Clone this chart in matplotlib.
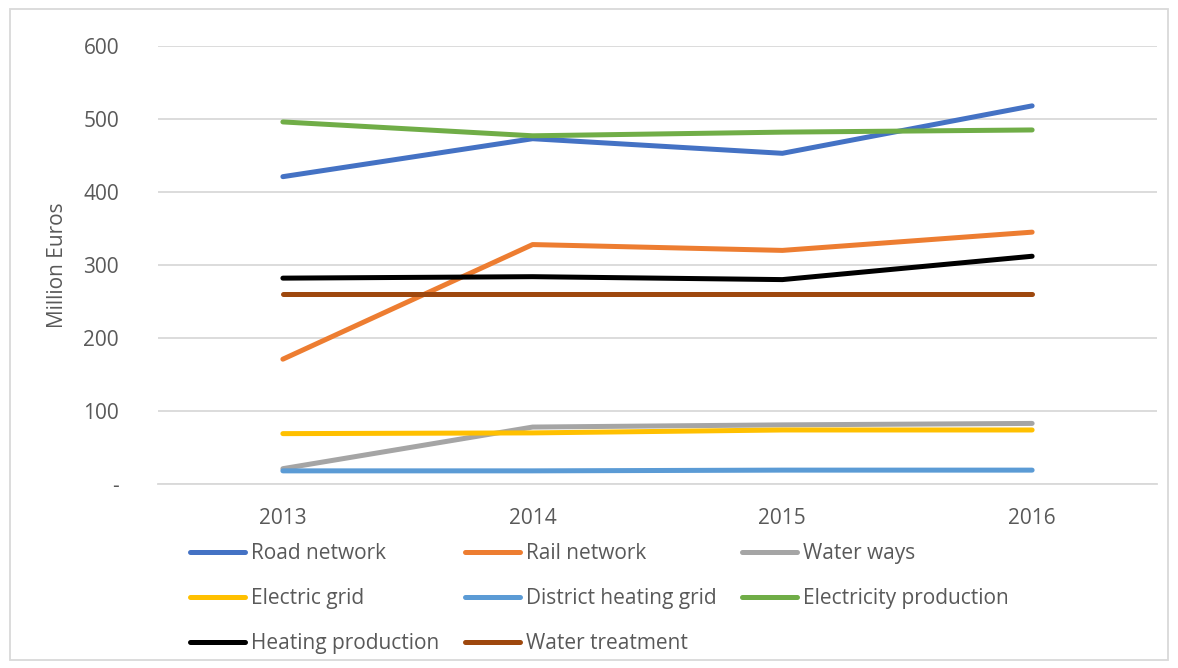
import matplotlib.pyplot as plt
from matplotlib.patches import Rectangle

plt.rcParams['font.family'] = ['Open Sans', 'DejaVu Sans']

years = ['2013', '2014', '2015', '2016']
road = [421, 473, 453, 518]
rail = [171, 328, 320, 345]
water_ways = [21, 78, 81, 83]
electric_grid = [69, 70, 74, 74]
district_heating = [18, 18, 19, 19]
electricity_prod = [496, 477, 482, 485]
heating_prod = [282, 284, 280, 312]
water_treatment = [260, 260, 260, 260]

names = ['Road network', 'Rail network', 'Water ways', 'Electric grid',
         'District heating grid', 'Electricity production',
         'Heating production', 'Water treatment']
series = [road, rail, water_ways, electric_grid, district_heating,
          electricity_prod, heating_prod, water_treatment]
colors = ['#4472C4', '#ED7D31', '#A5A5A5', '#FFC000',
          '#5B9BD5', '#70AD47', '#000000', '#9E480E']

txt = '#595959'
grid = '#D9D9D9'

fig = plt.figure(figsize=(11.78, 6.68), dpi=100)
ax = fig.add_axes([158/1178, 1 - 484/668, (1157-158)/1178, (484-46)/668])

x = range(len(years))
handles = []
for vals, name, c in zip(series, names, colors):
    h, = ax.plot(x, vals, color=c, lw=3.6, solid_capstyle='round',
                 solid_joinstyle='round', label=name)
    handles.append(h)

ax.set_xlim(-0.5, 3.5)
ax.set_ylim(0, 600)
ax.set_yticks(range(0, 601, 100))
ax.set_yticklabels(['-'] + [str(v) for v in range(100, 601, 100)])
ax.set_xticks(list(x))
ax.set_xticklabels(years)
ax.grid(axis='y', color=grid, lw=1.3)
ax.set_axisbelow(True)
for s in ['top', 'right', 'left']:
    ax.spines[s].set_visible(False)
ax.spines['bottom'].set_color(grid)
ax.spines['bottom'].set_linewidth(1.3)
ax.tick_params(axis='y', length=0, pad=28, labelsize=15, labelcolor=txt)
ax.tick_params(axis='x', length=0, pad=17, labelsize=15, labelcolor=txt)
ax.set_ylabel('Million Euros', fontsize=15, color=txt, labelpad=11)

order = [0, 3, 6, 1, 4, 7, 2, 5]
leg = fig.legend([handles[i] for i in order], [names[i] for i in order],
                 ncol=3, loc='upper left', bbox_to_anchor=(190/1178, 1 - 543/668),
                 frameon=False, fontsize=15, handlelength=2.65,
                 handletextpad=0.3, columnspacing=1.2, labelspacing=1.15,
                 borderaxespad=0, borderpad=0)
for t in leg.get_texts():
    t.set_color(txt)

fig.patches.append(Rectangle((10/1178, 1 - 660/668), 1158/1178, 651/668,
                             transform=fig.transFigure, fill=False,
                             edgecolor=grid, lw=1.3))

fig.savefig('out.png', dpi=100)
